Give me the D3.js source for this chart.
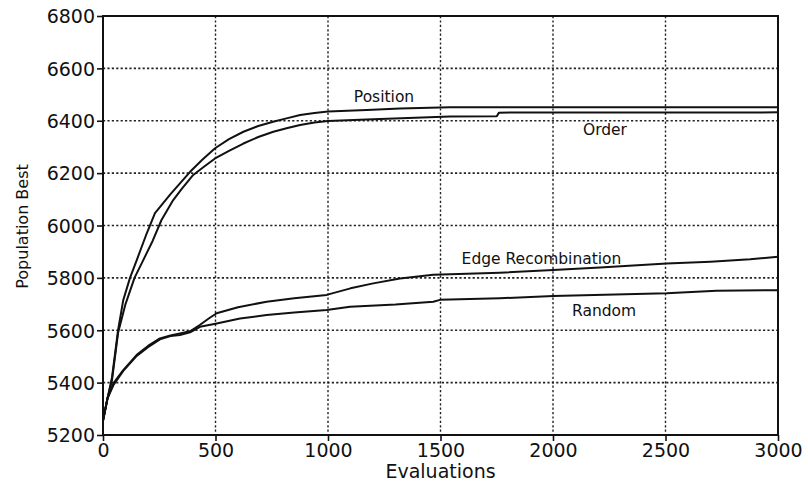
<!DOCTYPE html>
<html>
<head>
<meta charset="utf-8">
<script src="https://cdn.jsdelivr.net/npm/d3@7/dist/d3.min.js"></script>
<style>
  html, body { margin: 0; padding: 0; background: #fff; }
  svg { display: block; }
  text { font-family: "DejaVu Sans", "Liberation Sans", sans-serif; fill: #111; }
</style>
</head>
<body>
<svg id="chart" width="808" height="483"></svg>
<script>
// ---- data ----
const xTicks = [0, 500, 1000, 1500, 2000, 2500, 3000];
const yTicks = [5200, 5400, 5600, 5800, 6000, 6200, 6400, 6600, 6800];

const positionEvals = [0, 20, 40, 67, 90, 120, 150, 190, 231, 300, 387, 440, 498, 560, 624, 690, 756, 820, 876, 940, 1000, 1172, 1320, 1542, 2000, 2500, 3000];
const positionBest  = [5255, 5340, 5420, 5600, 5715, 5800, 5868, 5960, 6047, 6120, 6205, 6250, 6295, 6330, 6358, 6380, 6396, 6410, 6422, 6430, 6435, 6441, 6447, 6452, 6452, 6452, 6452];

const orderEvals = [0, 20, 40, 67, 100, 140, 179, 220, 260, 312, 350, 401, 450, 498, 560, 624, 690, 757, 820, 876, 940, 1000, 1172, 1542, 1750, 1760, 3000];
const orderBest  = [5255, 5340, 5410, 5590, 5700, 5800, 5868, 5940, 6021, 6097, 6140, 6193, 6225, 6256, 6285, 6313, 6338, 6358, 6372, 6384, 6393, 6399, 6405, 6416, 6417, 6431, 6432];

const edgeEvals = [0, 20, 46, 90, 150, 200, 253, 300, 342, 387, 430, 470, 505, 600, 727, 850, 994, 1100, 1201, 1320, 1468, 1764, 2001, 2209, 2505, 2700, 2876, 3000];
const edgeBest  = [5255, 5340, 5397, 5448, 5506, 5540, 5569, 5580, 5588, 5596, 5620, 5645, 5665, 5688, 5709, 5722, 5735, 5760, 5779, 5798, 5812, 5820, 5830, 5840, 5855, 5862, 5871, 5881];

const randomEvals = [0, 20, 46, 90, 150, 200, 253, 300, 342, 387, 431, 500, 609, 727, 850, 994, 1098, 1300, 1468, 1498, 1764, 2001, 2505, 2727, 3000];
const randomBest  = [5255, 5340, 5390, 5445, 5502, 5535, 5565, 5578, 5582, 5592, 5613, 5625, 5645, 5658, 5668, 5677, 5690, 5698, 5709, 5716, 5722, 5731, 5741, 5751, 5753];

const seriesNames = ["Position", "Order", "Edge Recombination", "Random"];
const labelAnchors = [[1249, 6472], [2231, 6345], [1949, 5853], [2227, 5654]]; // [evaluations, value] where labels sit

const xTitle = "Evaluations";
const yTitle = "Population Best";

// ---- layout ----
const svg = d3.select("#chart");
const margin = { top: 16, right: 30, bottom: 48, left: 103 };
const W = 808, H = 483;
const iw = W - margin.left - margin.right;
const ih = H - margin.top - margin.bottom;

const x = d3.scaleLinear().domain([0, 3000]).range([0, iw]);
const y = d3.scaleLinear().domain([5200, 6800]).range([ih, 0]);

const g = svg.append("g").attr("transform", `translate(${margin.left},${margin.top})`);

// grid lines
g.append("g").selectAll("line.hg")
  .data(yTicks.filter(v => v !== 5200 && v !== 6800))
  .join("line")
  .attr("x1", 0).attr("x2", iw)
  .attr("y1", d => y(d)).attr("y2", d => y(d))
  .attr("stroke", "#222").attr("stroke-width", 1.6)
  .attr("stroke-dasharray", "2.2,2.2");

g.append("g").selectAll("line.vg")
  .data(xTicks.filter(v => v !== 0 && v !== 3000))
  .join("line")
  .attr("x1", d => x(d)).attr("x2", d => x(d))
  .attr("y1", 0).attr("y2", ih)
  .attr("stroke", "#222").attr("stroke-width", 1.4)
  .attr("stroke-dasharray", "2.2,2.2");

// axes
const xAxis = d3.axisBottom(x).tickValues(xTicks).tickSize(6).tickPadding(3).tickFormat(d3.format("d"));
const yAxis = d3.axisLeft(y).tickValues(yTicks).tickSize(6).tickPadding(2).tickFormat(d3.format("d"));

const gx = g.append("g").attr("transform", `translate(0,${ih})`).call(xAxis);
const gy = g.append("g").call(yAxis);
[gx, gy].forEach(a => {
  a.select(".domain").remove();
  a.selectAll(".tick line").attr("stroke", "#111").attr("stroke-width", 1.6);
  a.selectAll(".tick text").style("font-size", "19px").attr("fill", "#111")
    .style("font-family", "'DejaVu Sans', sans-serif");
});
gy.selectAll(".tick text").attr("dy", "0.36em");

// frame
g.append("rect").attr("x", 0).attr("y", 0).attr("width", iw).attr("height", ih)
  .attr("fill", "none").attr("stroke", "#111").attr("stroke-width", 2);

// series lines
const line = d3.line().x(d => x(d[0])).y(d => y(d[1])).curve(d3.curveLinear);
const allSeries = [
  d3.zip(positionEvals, positionBest),
  d3.zip(orderEvals, orderBest),
  d3.zip(edgeEvals, edgeBest),
  d3.zip(randomEvals, randomBest)
];
g.append("g").selectAll("path")
  .data(allSeries)
  .join("path")
  .attr("d", line)
  .attr("fill", "none")
  .attr("stroke", "#111")
  .attr("stroke-width", 2)
  .attr("stroke-linejoin", "round");

// series labels
g.append("g").selectAll("text")
  .data(seriesNames)
  .join("text")
  .attr("x", (d, i) => x(labelAnchors[i][0]))
  .attr("y", (d, i) => y(labelAnchors[i][1]))
  .attr("text-anchor", "middle")
  .style("font-size", "15.5px")
  .text(d => d);

// axis titles
svg.append("text")
  .attr("x", margin.left + x(1500))
  .attr("y", H - 5)
  .attr("text-anchor", "middle")
  .style("font-size", "19px")
  .text(xTitle);

svg.append("text")
  .attr("transform", `translate(28,${margin.top + y(6000) + 1}) rotate(-90)`)
  .attr("text-anchor", "middle")
  .style("font-size", "16px")
  .text(yTitle);
</script>
</body>
</html>
